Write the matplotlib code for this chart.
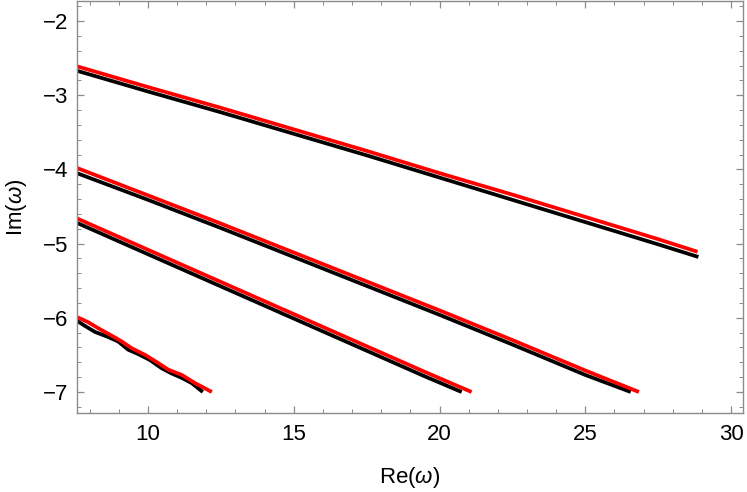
import numpy as np
import matplotlib.pyplot as plt
from matplotlib.ticker import MultipleLocator

plt.rcParams["font.family"] = ["Liberation Sans", "DejaVu Sans"]
plt.rcParams["mathtext.fontset"] = "custom"
plt.rcParams["mathtext.it"] = "Liberation Sans:italic"
plt.rcParams["mathtext.rm"] = "Liberation Sans"

# branch 1 (top)
x_red1 = [7.56, 10, 12.5, 15, 17.5, 20, 22.5, 25, 27.5, 28.85]
y_red1 = [-2.61, -2.89, -3.17, -3.46, -3.75, -4.05, -4.34, -4.64, -4.94, -5.11]
x_blk1 = [7.56, 10, 12.5, 15, 17.5, 20, 22.5, 25, 27.5, 28.88]
y_blk1 = [-2.67, -2.95, -3.23, -3.52, -3.81, -4.11, -4.41, -4.71, -5.01, -5.18]

# branch 2
x_red2 = [7.56, 10, 12.5, 15, 17.5, 20, 22.5, 25, 26.84]
y_red2 = [-3.98, -4.35, -4.73, -5.12, -5.51, -5.90, -6.30, -6.71, -7.0]
x_blk2 = [7.56, 10, 12.5, 15, 17.5, 20, 22.5, 25, 26.56]
y_blk2 = [-4.05, -4.41, -4.79, -5.18, -5.57, -5.96, -6.36, -6.77, -7.0]

# branch 3
x_red3 = [7.56, 9, 10.5, 12, 13.5, 15, 16.5, 18, 19.5, 21.1]
y_red3 = [-4.66, -4.91, -5.17, -5.43, -5.69, -5.95, -6.21, -6.47, -6.73, -7.0]
x_blk3 = [7.56, 9, 10.5, 12, 13.5, 15, 16.5, 18, 19.5, 20.76]
y_blk3 = [-4.72, -4.97, -5.23, -5.49, -5.75, -6.01, -6.27, -6.53, -6.79, -7.0]

# branch 4 (bottom)
x_red4 = [7.56, 7.95, 8.29, 8.75, 9.10, 9.44, 9.90, 10.35, 10.70, 11.16, 11.61, 12.19]
y_red4 = [-5.99, -6.06, -6.14, -6.24, -6.32, -6.41, -6.50, -6.61, -6.70, -6.77, -6.88, -7.0]
x_blk4 = [7.56, 7.84, 8.18, 8.64, 8.98, 9.32, 9.67, 10.07, 10.47, 10.81, 11.16, 11.50, 11.88]
y_blk4 = [-6.04, -6.11, -6.19, -6.26, -6.32, -6.43, -6.49, -6.57, -6.68, -6.75, -6.81, -6.88, -7.0]

blacks = [(x_blk1, y_blk1), (x_blk2, y_blk2), (x_blk3, y_blk3), (x_blk4, y_blk4)]
reds = [(x_red1, y_red1), (x_red2, y_red2), (x_red3, y_red3), (x_red4, y_red4)]

fig = plt.figure(figsize=(7.47, 4.92), dpi=100)
ax = fig.add_axes([77 / 747, 1 - 413 / 492, 666 / 747, 412 / 492])

for (xb, yb), (xr, yr) in zip(blacks, reds):
    ax.plot(xb, yb, color="black", lw=2.7, solid_capstyle="butt")
    ax.plot(xr, yr, color="#ff0000", lw=2.7, solid_capstyle="butt")

ax.set_xlim(7.564, 30.41)
ax.set_ylim(-7.283, -1.73)

ax.xaxis.set_major_locator(MultipleLocator(5))
ax.xaxis.set_minor_locator(MultipleLocator(1))
ax.yaxis.set_major_locator(MultipleLocator(1))
ax.yaxis.set_minor_locator(MultipleLocator(0.2))

frame = "#8c8c8c"
for s in ax.spines.values():
    s.set_color(frame)
    s.set_linewidth(1.0)
ax.tick_params(which="both", direction="in", top=True, right=True, color=frame,
               labelsize=16, labelcolor="black")
ax.tick_params(which="major", length=5, width=0.9)
ax.tick_params(which="minor", length=3, width=0.7)
ax.tick_params(axis="x", which="major", pad=8)
ax.tick_params(axis="y", which="major", pad=6)

ax.set_xlabel(r"Re($\omega$)", fontsize=16, labelpad=14)
ax.set_ylabel(r"Im($\omega$)", fontsize=16, labelpad=10)

fig.savefig("out.png", dpi=100)
